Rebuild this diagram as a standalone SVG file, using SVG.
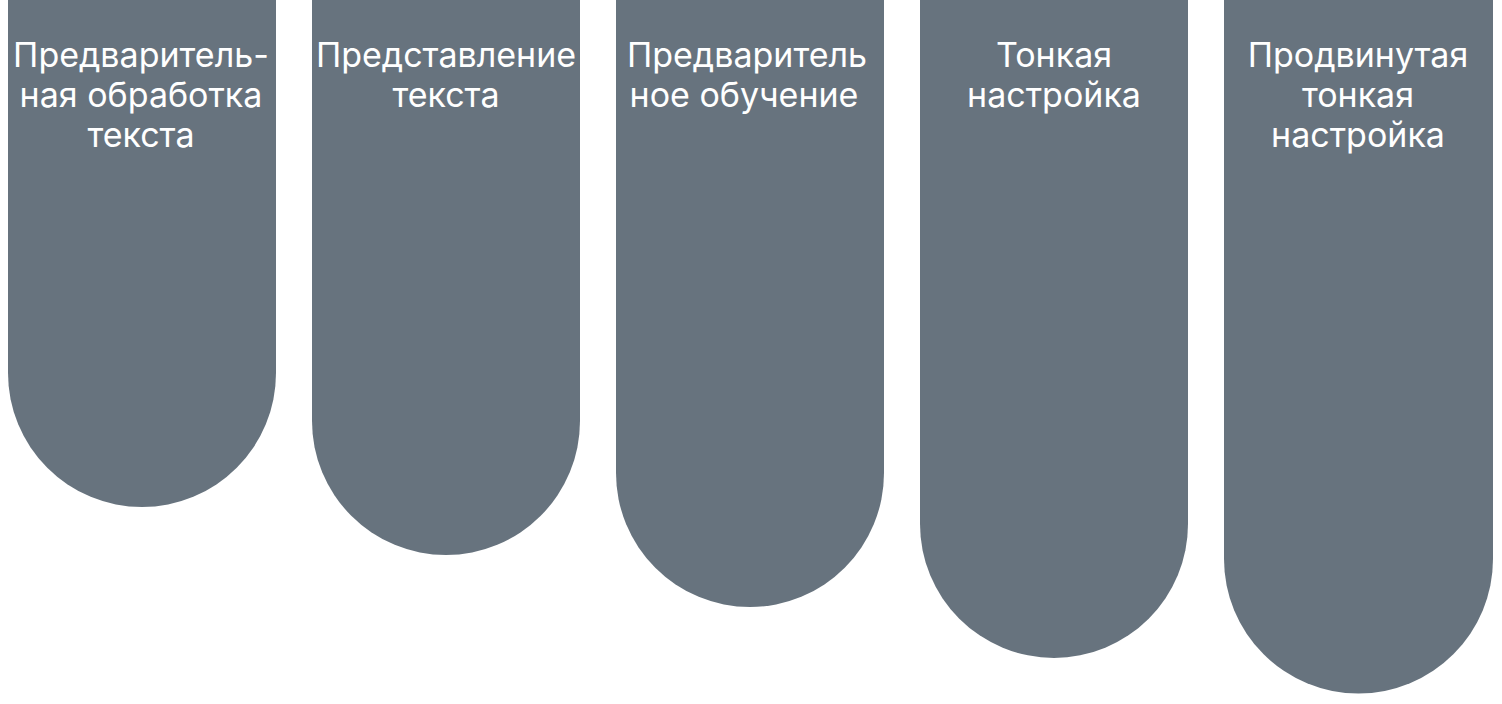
<svg xmlns="http://www.w3.org/2000/svg" width="1502" height="704" viewBox="0 0 1502 704">
<style>
.col{fill:#67737e}
.t{fill:#ffffff;font-family:Inter,"Noto Sans",sans-serif;font-size:34px;text-anchor:middle}
</style>
<rect width="1502" height="704" fill="#ffffff"/>
<g id="node1">
<path class="col" d="M8,-10 H276 V373 A134,134 0 0 1 8,373 Z"/>
<text class="t" x="141" y="67">Предваритель-</text>
<text class="t" x="141" y="107">ная обработка</text>
<text class="t" x="141" y="147">текста</text>
</g>
<g id="node2">
<path class="col" d="M312,-10 H580 V421 A134,134 0 0 1 312,421 Z"/>
<text class="t" x="446" y="67">Представление</text>
<text class="t" x="446" y="107">текста</text>
</g>
<g id="node3">
<path class="col" d="M616,-10 H884 V473 A134,134 0 0 1 616,473 Z"/>
<text class="t" x="747" y="67">Предваритель</text>
<text class="t" x="744" y="107">ное обучение</text>
</g>
<g id="node4">
<path class="col" d="M920,-10 H1188 V524 A134,134 0 0 1 920,524 Z"/>
<text class="t" x="1054" y="67">Тонкая</text>
<text class="t" x="1054" y="107">настройка</text>
</g>
<g id="node5">
<path class="col" d="M1224,-10 H1493 V559 A134.5,134.5 0 0 1 1224,559 Z"/>
<text class="t" x="1358" y="67">Продвинутая</text>
<text class="t" x="1358" y="107">тонкая</text>
<text class="t" x="1358" y="147">настройка</text>
</g>
<g id="connectors"></g>
</svg>
